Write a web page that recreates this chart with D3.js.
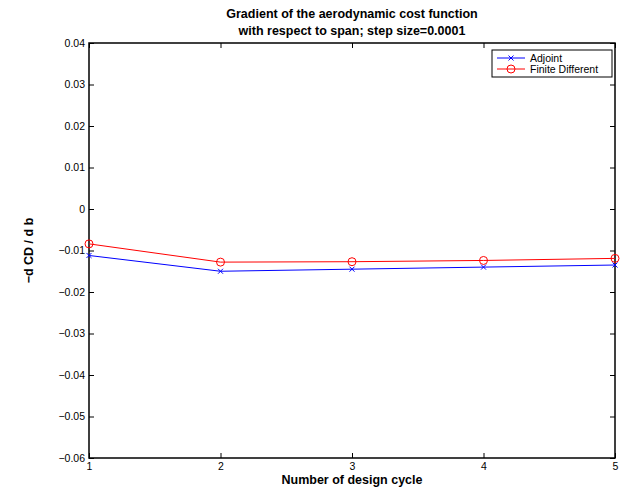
<!DOCTYPE html>
<html>
<head>
<meta charset="utf-8">
<script src="https://cdn.jsdelivr.net/npm/d3@7"></script>
<style>
  body { margin: 0; background: #fff; }
  svg { font-family: "Liberation Sans", Arial, sans-serif; }
</style>
</head>
<body>
<svg id="chart" width="624" height="491"></svg>
<script>
// Daten
const cycles = [1, 2, 3, 4, 5];
const adjoint = [-0.0112, -0.0150, -0.0145, -0.0140, -0.0135];
const finiteDiff = [-0.0084, -0.0128, -0.0127, -0.0124, -0.0119];
const yTicks = [0.04, 0.03, 0.02, 0.01, 0, -0.01, -0.02, -0.03, -0.04, -0.05, -0.06];
const titleLines = ["Gradient of the aerodynamic cost function", "with respect to span; step size=0.0001"];

const svg = d3.select("#chart");
const m = { left: 89, right: 615, top: 43, bottom: 458 };

const x = d3.scaleLinear().domain([1, 5]).range([m.left, m.right]);
const y = d3.scaleLinear().domain([-0.06, 0.04]).range([m.bottom, m.top]);

const fmt = d => d === 0 ? "0" : d3.format(".2f")(d).replace("-", "\u2212");

// Achsen (Ticks nach innen, MATLAB-Stil)
const axisStyle = g => {
  g.select(".domain").remove();
  g.selectAll("line").attr("stroke", "#000");
  g.selectAll("text").attr("font-size", 10.5).attr("fill", "#000");
};

svg.append("g")
  .attr("transform", `translate(0,${m.bottom})`)
  .call(d3.axisBottom(x).tickValues(cycles).tickSize(-5).tickPadding(4.5).tickFormat(d3.format("d")))
  .call(axisStyle);
svg.append("g")
  .attr("transform", `translate(0,${m.top})`)
  .call(d3.axisTop(x).tickValues(cycles).tickSize(-5).tickFormat(""))
  .call(axisStyle);
svg.append("g")
  .attr("transform", `translate(${m.left},0)`)
  .call(d3.axisLeft(y).tickValues(yTicks).tickSize(-5).tickPadding(4).tickFormat(fmt))
  .call(axisStyle);
svg.append("g")
  .attr("transform", `translate(${m.right},0)`)
  .call(d3.axisRight(y).tickValues(yTicks).tickSize(-5).tickFormat(""))
  .call(axisStyle);

svg.append("rect")
  .attr("x", m.left).attr("y", m.top)
  .attr("width", m.right - m.left).attr("height", m.bottom - m.top)
  .attr("fill", "none").attr("stroke", "#000").attr("stroke-width", 1.5);

// Linien
const line = d3.line().x((d, i) => x(cycles[i])).y(d => y(d));

svg.append("path").datum(finiteDiff)
  .attr("d", line).attr("fill", "none").attr("stroke", "#ff0000").attr("stroke-width", 1);
svg.append("path").datum(adjoint)
  .attr("d", line).attr("fill", "none").attr("stroke", "#0000ff").attr("stroke-width", 1);

function crossMark(g, cx, cy, r) {
  g.append("path")
    .attr("d", `M${cx - r},${cy - r}L${cx + r},${cy + r}M${cx - r},${cy + r}L${cx + r},${cy - r}`)
    .attr("stroke", "#0000ff").attr("stroke-width", 1);
}

const markers = svg.append("g");
finiteDiff.forEach((v, i) => {
  markers.append("circle").attr("cx", x(cycles[i])).attr("cy", y(v)).attr("r", 4)
    .attr("fill", "none").attr("stroke", "#ff0000").attr("stroke-width", 1);
});
adjoint.forEach((v, i) => crossMark(markers, x(cycles[i]), y(v), 2.5));

// Legende
const lg = svg.append("g").attr("transform", "translate(492,50)");
lg.append("rect").attr("width", 120).attr("height", 27)
  .attr("fill", "#fff").attr("stroke", "#000").attr("stroke-width", 1);
lg.append("line").attr("x1", 5).attr("x2", 33).attr("y1", 8).attr("y2", 8).attr("stroke", "#0000ff");
crossMark(lg, 19, 8, 2.5);
lg.append("text").attr("x", 38).attr("y", 12).attr("font-size", 10.5).text("Adjoint");
lg.append("line").attr("x1", 5).attr("x2", 33).attr("y1", 19).attr("y2", 19).attr("stroke", "#ff0000");
lg.append("circle").attr("cx", 19).attr("cy", 19).attr("r", 4)
  .attr("fill", "none").attr("stroke", "#ff0000");
lg.append("text").attr("x", 38).attr("y", 23).attr("font-size", 10.5).text("Finite Different");

// Titel und Achsenbeschriftungen
const cx = (m.left + m.right) / 2;
svg.append("text").attr("x", cx).attr("y", 18).attr("text-anchor", "middle")
  .attr("font-size", 12.5).attr("font-weight", "bold").text(titleLines[0]);
svg.append("text").attr("x", cx).attr("y", 35).attr("text-anchor", "middle")
  .attr("font-size", 12.5).attr("font-weight", "bold").text(titleLines[1]);
svg.append("text").attr("x", cx).attr("y", 484).attr("text-anchor", "middle")
  .attr("font-size", 12.5).attr("font-weight", "bold").text("Number of design cycle");
svg.append("text").attr("transform", `translate(33,${(m.top + m.bottom) / 2}) rotate(-90)`)
  .attr("text-anchor", "middle").attr("font-size", 12.5).attr("font-weight", "bold")
  .text("\u2212d CD / d b");
</script>
</body>
</html>
